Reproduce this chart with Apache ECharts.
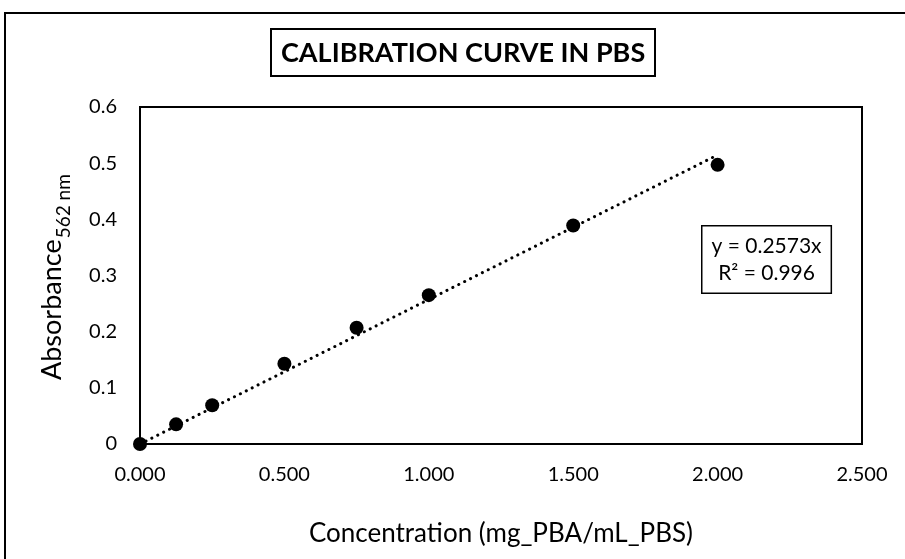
<!DOCTYPE html>
<html>
<head>
<meta charset="utf-8">
<script src="https://cdn.jsdelivr.net/npm/echarts@6/dist/echarts.min.js"></script>
<style>
  html, body { margin: 0; padding: 0; background: #fff; }
  #chart { width: 905px; height: 559px; }
</style>
</head>
<body>
<div id="chart"></div>
<script>
// Measured standards: concentration (mg PBA / mL PBS) vs absorbance at 562 nm
const concentration = [0, 0.125, 0.25, 0.5, 0.75, 1.0, 1.5, 2.0];
const absorbance = [0, 0.035, 0.069, 0.143, 0.207, 0.265, 0.389, 0.497];

// Linear fit through the origin
const slope = 0.2573;
const rSquared = 0.996;
const fitRange = [0, 2.0];

const xTicks = [0, 0.5, 1.0, 1.5, 2.0, 2.5];
const yTicks = [0, 0.1, 0.2, 0.3, 0.4, 0.5, 0.6];

const FONT = 'Lato, "Open Sans", sans-serif';

const points = concentration.map((c, i) => [c, absorbance[i]]);
const fitLine = fitRange.map(x => [x, slope * x]);

// width of the main part of the y-axis title, so the subscript follows it
const measureCtx = document.createElement('canvas').getContext('2d');
measureCtx.font = '27px ' + FONT;
const yTitleMainWidth = measureCtx.measureText('Absorbance').width;

const chart = echarts.init(document.getElementById('chart'), null, { renderer: 'canvas' });

chart.setOption({
  backgroundColor: '#ffffff',
  animation: false,
  textStyle: { fontFamily: FONT, color: '#000' },
  grid: {
    left: 140, top: 107, right: 43, bottom: 115,
    show: true, borderColor: '#000', borderWidth: 2, backgroundColor: 'transparent'
  },
  title: {
    text: 'CALIBRATION CURVE IN PBS',
    left: 271,
    top: 29,
    padding: [11, 10, 9, 10],
    borderColor: '#000',
    borderWidth: 2,
    textStyle: { fontFamily: FONT, fontWeight: 'bold', fontSize: 27, color: '#000' }
  },
  xAxis: {
    type: 'value',
    min: xTicks[0],
    max: xTicks[xTicks.length - 1],
    interval: 0.5,
    axisLine: { show: true, lineStyle: { color: '#000', width: 2 } },
    axisTick: { show: false },
    splitLine: { show: false },
    axisLabel: {
      margin: 21, fontSize: 20, color: '#000', fontFamily: FONT,
      formatter: v => v.toFixed(3)
    },
    name: 'Concentration (mg_PBA/mL_PBS)',
    nameLocation: 'middle',
    nameGap: 77,
    nameTextStyle: { fontSize: 26, color: '#000', fontFamily: FONT }
  },
  yAxis: {
    type: 'value',
    min: yTicks[0],
    max: yTicks[yTicks.length - 1],
    interval: 0.1,
    axisLine: { show: true, lineStyle: { color: '#000', width: 2 } },
    axisTick: { show: false },
    splitLine: { show: false },
    axisLabel: {
      margin: 23, fontSize: 20, color: '#000', fontFamily: FONT,
      formatter: v => String(Math.round(v * 10) / 10)
    }
  },
  graphic: [
    // outer chart frame
    {
      type: 'rect', silent: true, z: 0,
      shape: { x: 5, y: 13, width: 1000, height: 1000 },
      style: { fill: 'none', stroke: '#000', lineWidth: 2 }
    },
    // y-axis title with subscript
    {
      type: 'group', x: 66, y: 380, rotation: Math.PI / 2,
      children: [
        {
          type: 'text', x: 0, y: 0,
          style: {
            text: 'Absorbance', font: '27px ' + FONT, fill: '#000',
            textAlign: 'left', textVerticalAlign: 'bottom'
          }
        },
        {
          type: 'text', x: yTitleMainWidth + 1, y: 7,
          style: {
            text: '562 nm', font: '19px ' + FONT, fill: '#000',
            textAlign: 'left', textVerticalAlign: 'bottom'
          }
        }
      ]
    },
    // fit equation box
    {
      type: 'text', left: 701, top: 225, z: 10,
      style: {
        text: 'y = ' + slope + 'x\nR² = ' + rSquared,
        font: '21px ' + FONT, fill: '#000', textAlign: 'center',
        lineHeight: 27,
        padding: [6, 9, 6, 9],
        backgroundColor: '#fff', borderColor: '#000', borderWidth: 1.5
      }
    }
  ],
  series: [
    {
      type: 'line',
      data: fitLine,
      symbol: 'none',
      z: 2,
      lineStyle: { color: '#000', width: 3, type: [0.1, 6.5], cap: 'round' },
      silent: true
    },
    {
      type: 'scatter',
      data: points,
      symbol: 'circle',
      symbolSize: 14,
      z: 3,
      itemStyle: { color: '#000', opacity: 1 }
    }
  ]
});
</script>
</body>
</html>
